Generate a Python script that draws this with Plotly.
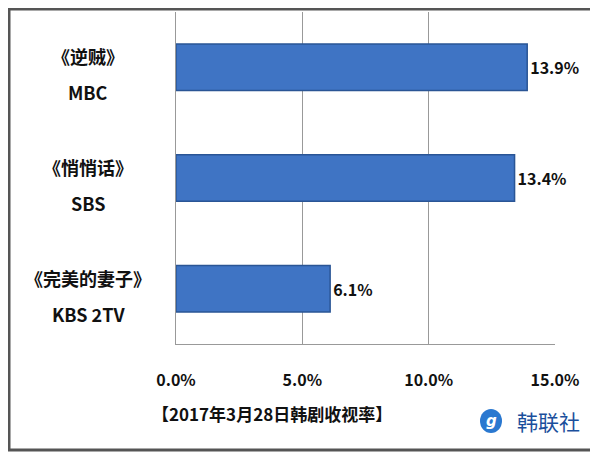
import plotly.graph_objects as go

shows = ["《逆贼》", "《悄悄话》", "《完美的妻子》"]
channels = ["MBC", "SBS", "KBS 2TV"]
ratings = [13.9, 13.4, 6.1]
tick_vals = [0, 5, 10, 15]
tick_text = ["0.0%", "5.0%", "10.0%", "15.0%"]

# the page body has an 8px margin, so the figure is drawn 8px smaller
OFF = 8
W, H = 598 - OFF, 452 - OFF
L, R, T, B = 176 - OFF, 43, 4, 108
pw, ph = W - L - R, H - T - B

def px_x(x):
    return (x - OFF - L) / pw

def px_y(y):
    return (H - B - (y - OFF)) / ph

font = "Noto Sans CJK SC"
fig = go.Figure(go.Bar(
    x=ratings, y=channels, orientation="h",
    marker=dict(color="#3f74c4", line=dict(color="#2a5595", width=1.5)),
    text=[f"<b>{v:.1f}%</b>" for v in ratings], textposition="outside",
    textfont=dict(family=font, size=16, color="#111"),
    cliponaxis=False,
))

annotations = []
for s, c in zip(shows, channels):
    annotations.append(dict(x=px_x(88), xref="paper", y=c, yref="y",
                            xanchor="center", yanchor="middle", yshift=11,
                            text=f"<b>{s}</b>", showarrow=False,
                            font=dict(family=font, size=18, color="#111")))
    annotations.append(dict(x=px_x(88), xref="paper", y=c, yref="y",
                            xanchor="center", yanchor="middle", yshift=-25,
                            text=f"<b>{c}</b>", showarrow=False,
                            font=dict(family=font, size=18, color="#111")))
annotations.append(dict(x=px_x(272), xref="paper", y=px_y(413), yref="paper",
                        xanchor="center", yanchor="middle",
                        text="<b>【2017年3月28日韩剧收视率】</b>", showarrow=False,
                        font=dict(family=font, size=17, color="#111")))
annotations.append(dict(x=px_x(548), xref="paper", y=px_y(421), yref="paper",
                        xanchor="center", yanchor="middle",
                        text="韩联社", showarrow=False,
                        font=dict(family=font, size=21, color="#1b4f9c")))
annotations.append(dict(x=px_x(491), xref="paper", y=px_y(421), yref="paper",
                        xanchor="center", yanchor="middle",
                        text="<b><i>g</i></b>", showarrow=False,
                        font=dict(family="DejaVu Sans", size=15, color="white")))

shapes = [
    dict(type="circle", xref="paper", yref="paper",
         x0=px_x(480), x1=px_x(502), y0=px_y(433), y1=px_y(409),
         fillcolor="#2a78d0", line=dict(width=0)),
    dict(type="rect", xref="paper", yref="paper",
         x0=px_x(OFF + 1), x1=px_x(596), y0=px_y(450), y1=px_y(OFF + 1),
         line=dict(color="#555", width=3)),
]

fig.update_layout(
    width=W, height=H, margin=dict(l=L, r=R, t=T, b=B),
    plot_bgcolor="white", paper_bgcolor="white", showlegend=False,
    bargap=0.58, annotations=annotations, shapes=shapes,
    xaxis=dict(range=[0, 15], tickvals=tick_vals, ticktext=[f"<b>{t}</b>" for t in tick_text],
               showgrid=True, gridcolor="#999", gridwidth=1, zeroline=False,
               showline=True, linecolor="#999", ticks="",
               ticklabelstandoff=22,
               tickfont=dict(family=font, size=16, color="#111")),
    yaxis=dict(categoryorder="array", categoryarray=channels[::-1],
               showticklabels=False, showline=True, linecolor="#999",
               showgrid=False, ticks=""),
)
fig.write_html("out.html")
